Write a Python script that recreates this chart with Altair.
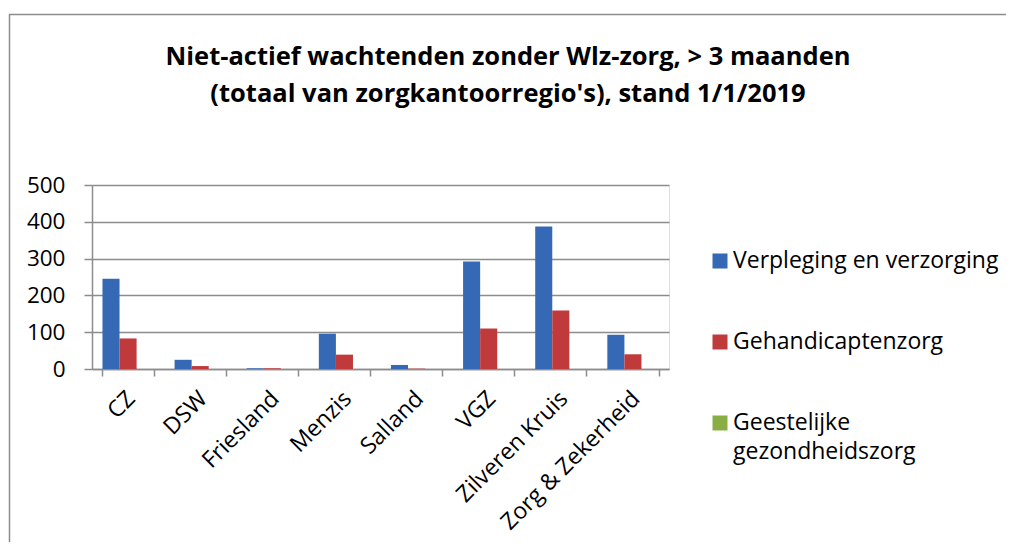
import altair as alt
import pandas as pd

categories = ["CZ", "DSW", "Friesland", "Menzis", "Salland", "VGZ", "Zilveren Kruis", "Zorg & Zekerheid"]
series = ["Verpleging en verzorging", "Gehandicaptenzorg", "Geestelijke gezondheidszorg"]
legend_lines = [["Verpleging en verzorging"], ["Gehandicaptenzorg"], ["Geestelijke", "gezondheidszorg"]]
verpleging = [245, 25, 2, 96, 11, 292, 387, 93]
gehandicapten = [83, 8, 2, 39, 1, 110, 159, 40]
ggz = [0, 0, 0, 0, 0, 0, 0, 0]
colors = ["#3569B5", "#C0393B", "#8AAE44"]
title_lines = ["Niet-actief wachtenden zonder Wlz-zorg, > 3 maanden",
               "(totaal van zorgkantoorregio's), stand 1/1/2019"]
y_ticks = [0, 100, 200, 300, 400, 500]

rows = []
for s, vals in zip(series, [verpleging, gehandicapten, ggz]):
    for c, v in zip(categories, vals):
        rows.append({"regio": c, "reeks": s, "waarde": v})
df = pd.DataFrame(rows)
leg_df = pd.DataFrame({"reeks": series, "label": legend_lines})

FONT = "Open Sans"
GRAY = "#8c8c8c"
color_scale = alt.Scale(domain=series, range=colors)

bars = alt.Chart(df).mark_bar().encode(
    x=alt.X("regio:N", sort=categories,
            scale=alt.Scale(paddingInner=0.29, paddingOuter=0.145),
            axis=alt.Axis(title=None, labelAngle=-45, tickBand="extent", ticks=True,
                          tickSize=7, tickColor=GRAY, tickWidth=1.5, domainColor=GRAY,
                          domainWidth=1.5, labelFont=FONT, labelFontSize=23,
                          labelLimit=300, labelOffset=-5,
                          labelColor="black", grid=False, labelPadding=11)),
    xOffset=alt.XOffset("reeks:N", sort=series,
                        scale=alt.Scale(domain=series, paddingInner=0, paddingOuter=0)),
    y=alt.Y("waarde:Q", scale=alt.Scale(domain=[0, 500], nice=False),
            axis=alt.Axis(values=y_ticks, title=None, grid=True, gridColor=GRAY,
                          gridWidth=1.5, domainColor=GRAY, domainWidth=1.5,
                          tickColor=GRAY, tickWidth=1.5, tickSize=8, labelPadding=19,
                          labelFont=FONT, labelFontSize=22.5, labelColor="black")),
    color=alt.Color("reeks:N", sort=series, scale=color_scale, legend=None),
)

leg_y = alt.Y("reeks:N", sort=series,
              scale=alt.Scale(type="point", domain=series, range=[76, 238], padding=0),
              axis=None)

leg_sym = alt.Chart(leg_df).mark_square(size=225, opacity=1).encode(
    x=alt.value(720 - 92), y=leg_y,
    color=alt.Color("reeks:N", scale=color_scale, legend=None),
)
leg_txt = alt.Chart(leg_df).mark_text(
    font=FONT, fontSize=23, lineHeight=29, align="left", baseline="middle", color="black"
).encode(x=alt.value(733 - 92), y=leg_y, text="label")

one = pd.DataFrame({"k": [0]})

border = alt.Chart(one).mark_rect(fill="transparent", stroke=GRAY, strokeWidth=1.5).encode(
    x=alt.value(-82.5), x2=alt.value(1000), y=alt.value(-170.5), y2=alt.value(600)
)

title = alt.Chart(one).mark_text(
    text=title_lines, font=FONT, fontSize=25.5, fontWeight="bold", lineHeight=37,
    align="center", baseline="middle", color="black"
).encode(x=alt.value(508 - 92), y=alt.value(57 - 185))

chart = alt.layer(border, title, bars, leg_sym, leg_txt).resolve_scale(
    y="independent"
).properties(
    width=577, height=184,
    autosize=alt.AutoSizeParams(type="none"),
    padding={"left": 84, "top": 177, "right": 337, "bottom": 173},
).configure_view(stroke=None).configure(background="white")

chart.save("out.html", embed_options={"renderer": "svg", "actions": False})
